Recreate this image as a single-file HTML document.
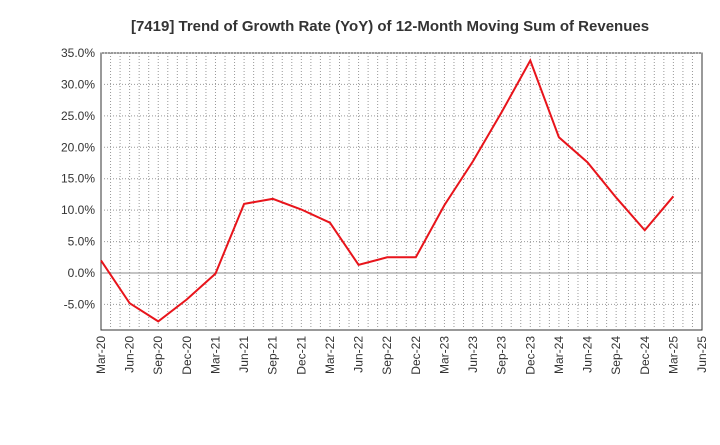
<!DOCTYPE html>
<html><head><meta charset="utf-8"><style>
body{margin:0;background:#fff;font-family:"Liberation Sans",sans-serif;}
svg text{font-family:"Liberation Sans",sans-serif;}
</style></head><body>
<svg id="chart" width="720" height="440">
<text x="390" y="31" text-anchor="middle" font-size="15" font-weight="bold" fill="#333">[7419]  Trend of Growth Rate (YoY) of 12-Month Moving Sum of Revenues</text>
<rect x="101" y="53" width="601" height="277" fill="#fff" stroke="#333" stroke-width="1"/>
<g id="grid"></g><g id="yticks"></g><g id="xticks"></g><g id="series"></g>
</svg>
<script>
const categories=["Mar-20","Jun-20","Sep-20","Dec-20","Mar-21","Jun-21","Sep-21","Dec-21","Mar-22","Jun-22","Sep-22","Dec-22","Mar-23","Jun-23","Sep-23","Dec-23","Mar-24","Jun-24","Sep-24","Dec-24","Mar-25","Jun-25"];
const values=[2.0,-4.8,-7.7,-4.2,-0.1,11.0,11.8,10.1,8.0,1.3,2.5,2.5,10.8,17.8,25.6,33.8,21.6,17.6,12.0,6.8,12.2];
const yTicks=[-5,0,5,10,15,20,25,30,35];
const NS="http://www.w3.org/2000/svg";
const L=101,R=702,T=53,B=330;
function x(i){return L+i*(R-L)/(categories.length-1);}
function y(v){return 273-v*(273-T)/35;}
function mk(t,a,p){const e=document.createElementNS(NS,t);for(const k in a)e.setAttribute(k,a[k]);p.appendChild(e);return e;}
const grid=document.getElementById('grid'),yt=document.getElementById('yticks'),xt=document.getElementById('xticks'),se=document.getElementById('series');
yTicks.forEach(v=>{
 const g=mk('line',{x1:L,x2:R,y1:y(v),y2:y(v),stroke:v===0?'#888':'#999','stroke-dasharray':v===0?'':'1,2','stroke-width':1},grid);
 
 
 const t=mk('text',{x:L-6,y:y(v)+4,'text-anchor':'end','font-size':12,fill:'#333'},yt);
 t.textContent=v.toFixed(1)+'%';
 
 
});
for(let m=1;m<(categories.length-1)*3;m++){
 const g=mk('line',{x1:x(m/3),x2:x(m/3),y1:T,y2:B,stroke:'#999','stroke-dasharray':'1,2'},grid);
 
 
}
categories.forEach((c,i)=>{
 const t=mk('text',{transform:`translate(${x(i)+4},${B+6}) rotate(-90)`,'text-anchor':'end','font-size':12,fill:'#333'},xt);
 t.textContent=c;
 
 
});
const p=mk('polyline',{points:values.map((v,i)=>x(i)+','+y(v)).join(' '),fill:'none',stroke:'#e8141b','stroke-width':2},se);


</script>
</body></html>
